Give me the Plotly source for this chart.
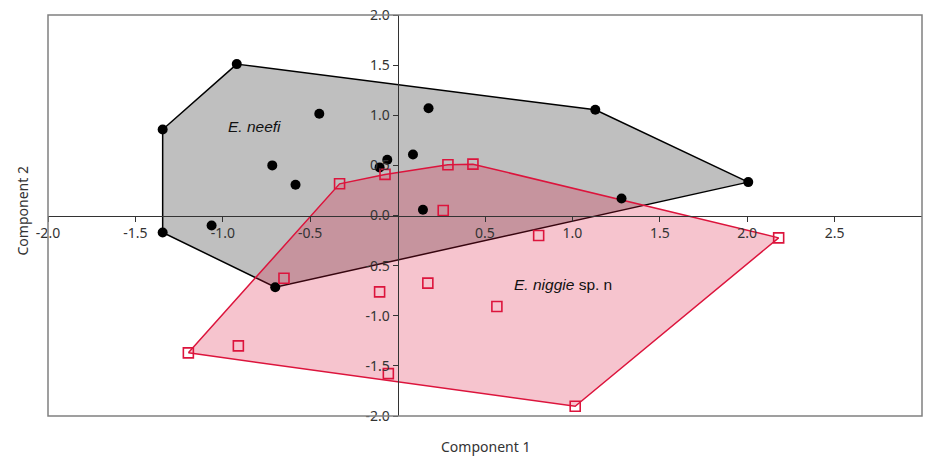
import plotly.graph_objects as go

# E. neefi (black dots)
neefi_x = [-0.92, -1.344, -1.344, -1.064, -0.70, -0.448, -0.717, -0.584, 0.177, -0.059, -0.103, 0.088, 0.145, 1.131, 2.006, 1.281]
neefi_y = [1.51, 0.858, -0.17, -0.10, -0.715, 1.015, 0.50, 0.306, 1.07, 0.556, 0.48, 0.609, 0.057, 1.055, 0.333, 0.17]
# convex hull vertices of E. neefi
neefi_hull_x = [-0.92, 1.131, 2.006, -0.70, -1.344, -1.344, -0.92]
neefi_hull_y = [1.51, 1.055, 0.333, -0.715, -0.17, 0.858, 1.51]

# E. niggie sp. n (red squares)
niggie_x = [-1.197, -0.911, -0.65, -0.103, 0.173, -0.053, 1.016, 2.18, 0.807, 0.568, -0.332, -0.072, 0.288, 0.431, 0.261]
niggie_y = [-1.37, -1.30, -0.626, -0.762, -0.675, -1.577, -1.903, -0.223, -0.20, -0.908, 0.316, 0.41, 0.506, 0.512, 0.05]
niggie_hull_x = [-1.197, -0.332, -0.072, 0.288, 0.431, 2.18, 1.016, -1.197]
niggie_hull_y = [-1.37, 0.316, 0.41, 0.506, 0.512, -0.223, -1.903, -1.37]

x_tickvals = [-2.0, -1.5, -1.0, -0.5, 0.5, 1.0, 1.5, 2.0, 2.5]
x_ticktext = ["-2.0", "-1.5", "-1.0", "-0.5", "0.5", "1.0", "1.5", "2.0", "2.5"]
y_tickvals = [-2.0, -1.5, -1.0, -0.5, 0.0, 0.5, 1.0, 1.5, 2.0]
y_ticktext = ["-2.0", "-1.5", "-1.0", "-0.5", "0.0", "0.5", "1.0", "1.5", "2.0"]

x_range = [-2.0, 3.0]
y_range = [-2.0, 2.0]

RED = "rgb(220,20,60)"
FONT = "Noto Sans, Open Sans, sans-serif"

fig = go.Figure()
fig.add_trace(go.Scatter(x=neefi_hull_x, y=neefi_hull_y, mode="lines", fill="toself",
                         fillcolor="rgba(0,0,0,0.25)", line=dict(color="black", width=1.5),
                         hoverinfo="skip", showlegend=False))
fig.add_trace(go.Scatter(x=niggie_hull_x, y=niggie_hull_y, mode="lines", fill="toself",
                         fillcolor="rgba(220,20,60,0.25)", line=dict(color=RED, width=1.5),
                         hoverinfo="skip", showlegend=False))
fig.add_trace(go.Scatter(x=neefi_x, y=neefi_y, mode="markers", name="E. neefi",
                         marker=dict(color="black", size=10, symbol="circle"), showlegend=False))
fig.add_trace(go.Scatter(x=niggie_x, y=niggie_y, mode="markers", name="E. niggie sp. n",
                         marker=dict(color=RED, size=10, symbol="square-open",
                                     line=dict(color=RED, width=1.6)), showlegend=False))

tickfont = dict(family=FONT, size=14, color="#333333")
fig.update_layout(
    width=925, height=456,
    margin=dict(l=48, r=3, t=15, b=40, autoexpand=False),
    paper_bgcolor="white", plot_bgcolor="white",
    xaxis=dict(range=x_range, anchor="free", position=(0 - y_range[0]) / (y_range[1] - y_range[0]),
               showgrid=False, zeroline=False, showline=True, linecolor="#333333", linewidth=1,
               ticks="outside", ticklen=5, tickcolor="#333333", tickvals=x_tickvals, ticktext=x_ticktext,
               tickfont=tickfont, automargin=False),
    yaxis=dict(range=y_range, anchor="free", position=(0 - x_range[0]) / (x_range[1] - x_range[0]),
               showgrid=False, zeroline=False, showline=True, linecolor="#333333", linewidth=1,
               ticks="outside", ticklen=5, tickcolor="#333333", tickvals=y_tickvals, ticktext=y_ticktext,
               tickfont=tickfont, ticklabelstandoff=0, automargin=False),
    shapes=[dict(type="rect", xref="paper", yref="paper", x0=0, y0=0, x1=1, y1=1,
                 line=dict(color="#808080", width=1.5), fillcolor="rgba(0,0,0,0)", layer="above")],
    annotations=[
        dict(x=-0.82, y=0.89, xref="x", yref="y", text="<i>E. neefi</i>", showarrow=False,
             font=dict(family="Liberation Sans, Arial, sans-serif", size=15.5, color="#111111")),
        dict(x=0.652, y=-0.69, xref="x", yref="y", xanchor="left", text="<i>E. niggie</i> sp. n",
             showarrow=False, font=dict(family="Liberation Sans, Arial, sans-serif", size=15.5, color="#111111")),
        dict(x=0.5, y=0, xref="paper", yref="paper", yanchor="middle", yshift=-30,
             text="Component 1", showarrow=False, font=dict(family=FONT, size=14, color="#333333")),
        dict(x=0, y=0.51, xref="paper", yref="paper", xanchor="center", yanchor="middle", xshift=-26,
             text="Component 2", textangle=-90, showarrow=False,
             font=dict(family=FONT, size=14, color="#333333")),
    ],
)

fig.write_html("out.html", config={"displayModeBar": False},
               post_script="document.body.style.margin='0';document.body.style.overflow='hidden';")
